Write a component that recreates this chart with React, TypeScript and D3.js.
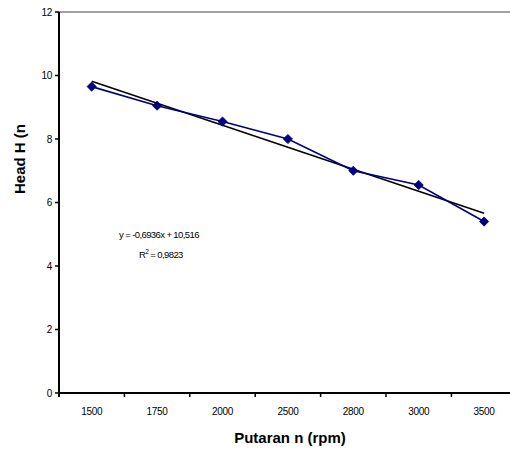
import React from "react";
import * as d3 from "d3";

// Pump head vs. rotational speed
const speeds = ["1500", "1750", "2000", "2500", "2800", "3000", "3500"];
const heads = [9.65, 9.05, 8.55, 8.0, 7.0, 6.55, 5.4];
const yTicks = [0, 2, 4, 6, 8, 10, 12];
// Linear trendline over category index (1..n)
const trendSlope = -0.6936;
const trendIntercept = 10.516;
const equationLabel = "y = -0,6936x + 10,516";
const rSquaredLabel = "0,9823";

const W = 510;
const H = 452;
const left = 59;
const top = 12;
const bottom = 393;
const band = 65.4;

export default function App() {
  const x = d3
    .scaleBand<string>()
    .domain(speeds)
    .range([left, left + band * speeds.length])
    .padding(0);
  const y = d3.scaleLinear().domain([0, 12]).range([bottom, top]);
  const cx = (s: string) => (x(s) ?? 0) + x.bandwidth() / 2;

  const line = d3
    .line<number>()
    .x((_, i) => cx(speeds[i]))
    .y((d) => y(d));

  const xFirst = cx(speeds[0]);
  const xLast = cx(speeds[speeds.length - 1]);
  const trendY = (i: number) => trendSlope * i + trendIntercept;

  const boundaries = d3.range(speeds.length + 1).map((i) => left + i * x.bandwidth());
  const r = 4.6;
  const diamond = `M0,${-r}L${r},0L0,${r}L${-r},0Z`;
  const font = "Liberation Sans, Arial, sans-serif";

  return (
    <svg
      width={W}
      height={H}
      style={{ position: "absolute", left: 0, top: 0, background: "#fff" }}
      fontFamily={font}
    >
      {/* plot frame top edge */}
      <line x1={left} x2={W} y1={top} y2={top} stroke="#808080" strokeWidth={1.5} />

      {/* trendline */}
      <line
        x1={xFirst}
        y1={y(trendY(1))}
        x2={xLast}
        y2={y(trendY(speeds.length))}
        stroke="#000"
        strokeWidth={1.6}
      />

      {/* data series */}
      <path d={line(heads) ?? ""} fill="none" stroke="#000080" strokeWidth={1.6} />
      {heads.map((h, i) => (
        <path
          key={i}
          d={diamond}
          transform={`translate(${cx(speeds[i])},${y(h)})`}
          fill="#000080"
          stroke="#000080"
          strokeWidth={0.8}
        />
      ))}

      {/* y axis */}
      <line x1={left} x2={left} y1={top} y2={bottom + 4} stroke="#000" strokeWidth={2} />
      {yTicks.map((t) => (
        <g key={t}>
          <line x1={left - 4} x2={left} y1={y(t)} y2={y(t)} stroke="#000" strokeWidth={1.5} />
          <text
            x={left - 7}
            y={y(t)}
            dy="0.35em"
            textAnchor="end"
            fontSize={10}
            letterSpacing={-0.3}
            fill="#000"
          >
            {t}
          </text>
        </g>
      ))}

      {/* x axis */}
      <line x1={left} x2={W} y1={bottom} y2={bottom} stroke="#000" strokeWidth={2} />
      {boundaries.map((b, i) => (
        <line key={i} x1={b} x2={b} y1={bottom} y2={bottom + 4} stroke="#000" strokeWidth={1.5} />
      ))}
      {speeds.map((s) => (
        <text
          key={s}
          x={cx(s)}
          y={415}
          textAnchor="middle"
          fontSize={10}
          letterSpacing={-0.3}
          fill="#000"
        >
          {s}
        </text>
      ))}

      {/* axis titles */}
      <text x={290} y={443} textAnchor="middle" fontSize={15} fontWeight="bold" fill="#000">
        Putaran n (rpm)
      </text>
      <text
        transform="translate(25,159) rotate(-90)"
        textAnchor="middle"
        fontSize={15}
        fontWeight="bold"
        fill="#000"
      >
        Head H (n
      </text>

      {/* trendline annotation */}
      <text x={119} y={238} fontSize={9.5} letterSpacing={-0.6} fill="#000">
        {equationLabel}
      </text>
      <text x={139} y={258} fontSize={9.5} letterSpacing={-0.6} fill="#000">
        R<tspan dy={-4} fontSize={6.5}>2</tspan>
        <tspan dy={4}> = {rSquaredLabel}</tspan>
      </text>
    </svg>
  );
}
